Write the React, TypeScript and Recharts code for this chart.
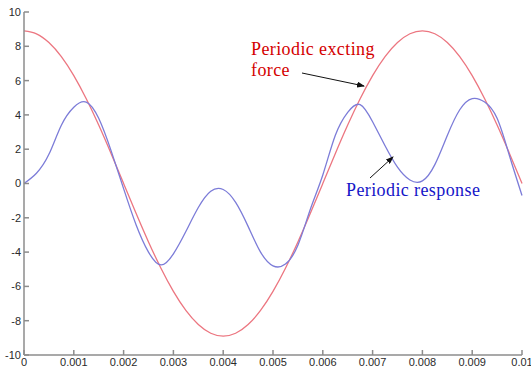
import { LineChart, Line, XAxis, YAxis } from 'recharts'

// time samples (s)
const time = [
  0, 0.00025, 0.0005, 0.00075, 0.001, 0.00125, 0.0015, 0.00175, 0.002, 0.00225,
  0.0025, 0.00275, 0.003, 0.00325, 0.0035, 0.00375, 0.004, 0.00425, 0.0045, 0.00475,
  0.005, 0.00525, 0.0055, 0.00575, 0.006, 0.00625, 0.0065, 0.00675, 0.007, 0.00725,
  0.0075, 0.00775, 0.008, 0.00825, 0.0085, 0.00875, 0.009, 0.00925, 0.0095, 0.00975,
  0.01
]

// periodic exciting force (red)
const force = [
  8.9, 8.73, 8.22, 7.4, 6.29, 4.94, 3.41, 1.74, 0, -1.74,
  -3.41, -4.94, -6.29, -7.4, -8.22, -8.73, -8.9, -8.73, -8.22, -7.4,
  -6.29, -4.94, -3.41, -1.74, 0, 1.74, 3.41, 4.94, 6.29, 7.4,
  8.22, 8.73, 8.9, 8.73, 8.22, 7.4, 6.29, 4.94, 3.41, 1.74,
  0
]

// periodic response (blue)
const response = [
  0, 0.6, 1.7, 3.4, 4.45, 4.75, 3.8, 1.9, -0.3, -2.4,
  -4.0, -4.75, -4.1, -2.8, -1.4, -0.45, -0.35, -1.1, -2.5, -4.0,
  -4.8, -4.7, -3.6, -1.5, 0.5, 2.8, 4.15, 4.6, 3.6, 2.2,
  0.95, 0.2, 0.15, 1.1, 2.8, 4.3, 4.95, 4.75, 3.8, 1.6,
  -0.7
]

const xTicks = [0, 0.001, 0.002, 0.003, 0.004, 0.005, 0.006, 0.007, 0.008, 0.009, 0.01]
const yTicks = [-10, -8, -6, -4, -2, 0, 2, 4, 6, 8, 10]

const data = time.map((t, i) => ({ t, force: force[i], response: response[i] }))

const axisColor = '#8c8c8c'
const tickStyle = { fill: '#2a2a2a', fontSize: 11, fontFamily: 'Liberation Sans' }

export default function App() {
  return (
    <div style={{ position: 'absolute', left: 0, top: 0, width: 531, height: 373, background: '#fff' }}>
      <LineChart width={531} height={373} data={data} margin={{ top: 12, right: 9, bottom: 0, left: 0 }}>
        <XAxis
          dataKey="t"
          type="number"
          domain={[0, 0.01]}
          ticks={xTicks}
          interval={0}
          height={18}
          tickSize={-5}
          tickMargin={8}
          stroke={axisColor}
          strokeWidth={1.5}
          tick={tickStyle}
        />
        <XAxis
          xAxisId="top"
          orientation="top"
          type="number"
          domain={[0, 0.01]}
          ticks={xTicks}
          interval={0}
          height={0}
          tickSize={-5}
          tick={false}
          stroke={axisColor}
          strokeWidth={1.5}
        />
        <YAxis
          type="number"
          domain={[-10, 10]}
          ticks={yTicks}
          interval={0}
          width={24}
          tickSize={-5}
          tickMargin={8}
          stroke={axisColor}
          strokeWidth={1.5}
          tick={tickStyle}
        />
        <YAxis
          yAxisId="right"
          orientation="right"
          type="number"
          domain={[-10, 10]}
          ticks={yTicks}
          interval={0}
          width={0}
          tickSize={-5}
          tick={false}
          stroke={axisColor}
          strokeWidth={1.5}
        />
        <Line
          dataKey="force"
          type="natural"
          stroke="#ec7680"
          strokeWidth={1.3}
          dot={false}
          isAnimationActive={false}
        />
        <Line
          dataKey="response"
          type="natural"
          stroke="#7c7cd8"
          strokeWidth={1.3}
          dot={false}
          isAnimationActive={false}
        />
      </LineChart>
      <svg
        width={531}
        height={373}
        style={{ position: 'absolute', left: 0, top: 0, pointerEvents: 'none' }}
      >
        <defs>
          <marker id="head" markerWidth="8" markerHeight="6" refX="7" refY="3" orient="auto" markerUnits="userSpaceOnUse">
            <path d="M0,0 L8,3 L0,6 Z" fill="#111" />
          </marker>
        </defs>
        <text x={251} y={55} fill="#d40000" fontFamily="Liberation Serif" fontSize={18} letterSpacing={0.4}>Periodic excting</text>
        <text x={251} y={76} fill="#d40000" fontFamily="Liberation Serif" fontSize={18} letterSpacing={0.4}>force</text>
        <line x1={302} y1={73} x2={364} y2={86} stroke="#111" strokeWidth={1} markerEnd="url(#head)" />
        <text x={346} y={196} fill="#1515c8" fontFamily="Liberation Serif" fontSize={18} letterSpacing={0.4}>Periodic response</text>
        <line x1={370} y1={178} x2={393} y2={157} stroke="#111" strokeWidth={1} markerEnd="url(#head)" />
      </svg>
    </div>
  )
}
